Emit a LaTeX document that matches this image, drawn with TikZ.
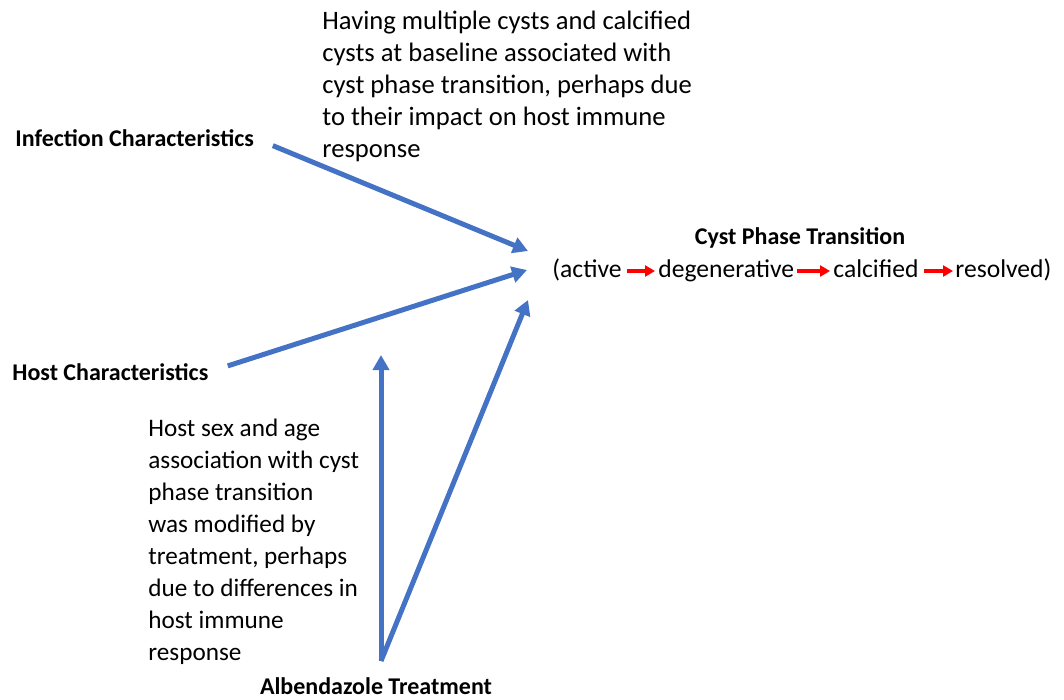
\documentclass[tikz,border=0pt]{standalone}
\usepackage{fontspec}
\setmainfont{Carlito}
\usepackage{tikz}
\usetikzlibrary{arrows.meta,positioning}
\definecolor{pathblue}{RGB}{68,114,196}
\definecolor{stepred}{RGB}{255,0,0}

\tikzset{
  lbl/.style={font=\fontsize{12}{14}\selectfont\bfseries, inner sep=0pt},
  txt/.style={font=\fontsize{12.8}{16}\selectfont, inner sep=0pt, text height=9pt, text depth=3pt},
  note/.style={font=\fontsize{12.8}{16}\selectfont, inner sep=0pt, align=left, anchor=north west},
  bluearrow/.style={pathblue, line width=2.5pt, -{Triangle[length=7.5pt,width=8pt]}},
  redarrow/.style={stepred, line width=2pt, -{Triangle[length=5pt,width=5.5pt]}}
}

\begin{document}
\begin{tikzpicture}[x=0.5pt,y=-0.5pt]
    \useasboundingbox (0,0) rectangle (1064,700);

    % Factor labels
    \node[lbl, anchor=west] (inf) at (15,138) {Infection Characteristics};
    \node[lbl, anchor=west] (host) at (12,372) {Host Characteristics};
    \node[lbl] (alb) at (376,686) {Albendazole Treatment};

    % Outcome
    \node[lbl] (cpt) at (800,238) {Cyst Phase Transition};
    \node[txt, anchor=base west] (act) at (552,277) {(active};
    \node[txt, anchor=base west] (deg) at (658,277) {degenerative};
    \node[txt, anchor=base west] (cal) at (833,277) {calcified};
    \node[txt, anchor=base west] (res) at (955,277) {resolved)};

    % Phase steps
    \draw[redarrow] ([xshift=2.5pt]act.east) -- ([xshift=-1.5pt]deg.west);
    \draw[redarrow] ([xshift=1pt]deg.east) -- ([xshift=-1.5pt]cal.west);
    \draw[redarrow] ([xshift=2.5pt]cal.east) -- ([xshift=-1pt]res.west);

    % Annotations
    \node[note, font=\fontsize{13.3}{16}\selectfont] (n1) at (322,11) {Having multiple cysts and calcified\\cysts at baseline associated with\\cyst phase transition, perhaps due\\to their impact on host immune\\response};
    \node[note, font=\fontsize{12.6}{16}\selectfont] (n2) at (148,419) {Host sex and age\\association with cyst\\phase transition\\was modified by\\treatment, perhaps\\due to differences in\\host immune\\response};

    % Arrow ends
    \coordinate (t1) at (528,251);
    \coordinate (t2) at (527,270);
    \coordinate (t3) at (528,300);
    \coordinate (t4) at (381,355);
    \coordinate (base) at (381,661);

    % Effects
    \draw[bluearrow, shorten <=10pt] (inf.east) -- (t1);
    \draw[bluearrow, shorten <=10pt] (host.east) -- (t2);
    \draw[bluearrow] (base) -- (t3);
    \draw[bluearrow] (base) -- (t4);
\end{tikzpicture}
\end{document}
